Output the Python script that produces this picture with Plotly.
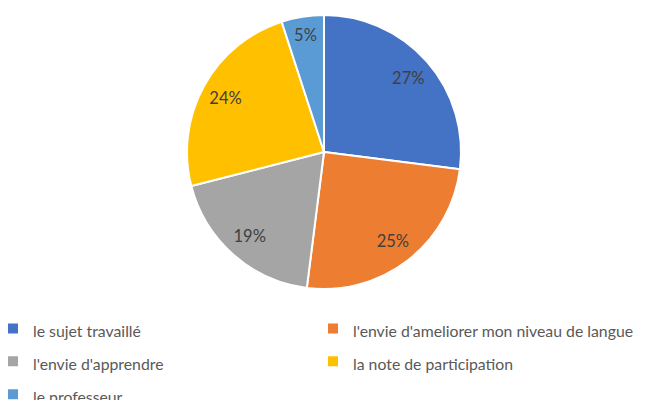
import plotly.graph_objects as go

labels = ["le sujet travaillé", "l'envie d'ameliorer mon niveau de langue",
          "l'envie d'apprendre", "la note de participation", "le professeur"]
values = [27, 25, 19, 24, 5]
colors = ["#4472C4", "#ED7D31", "#A5A5A5", "#FFC000", "#5B9BD5"]

W, H = 646, 400
OFF = 8                 # default page body margin shifts the figure by 8px
cx, cy, r = 324 - OFF, 152 - OFF, 137
LEG_TOP = 307 - OFF     # legend top in px (container coords)
P = LEG_TOP             # plot area height (legend reserves the space below)

dom = dict(x=[(cx - r) / W, (cx + r) / W], y=[1 - (cy + r) / P, 1 - (cy - r) / P])

leg_labels = ['<span style="font-size:15.8px">%s</span>' % s for s in labels]

fig = go.Figure()
fig.add_trace(go.Pie(
    labels=leg_labels,
    values=values,
    sort=False,
    direction="clockwise",
    rotation=0,
    marker=dict(colors=colors, line=dict(color="white", width=2)),
    textinfo="none",
    domain=dom,
    hovertext=labels,
    hoverinfo="text+percent",
))
fig.add_trace(go.Pie(
    labels=leg_labels,
    values=values,
    sort=False,
    direction="clockwise",
    rotation=0,
    hole=0.64,
    marker=dict(colors=["rgba(0,0,0,0)"] * len(values), line=dict(width=0)),
    textinfo="percent",
    textposition="inside",
    insidetextorientation="horizontal",
    textfont=dict(family="Lato", size=16.5, color="#404040"),
    domain=dom,
    showlegend=False,
    hoverinfo="skip",
))

fig.update_layout(
    width=W, height=H,
    margin=dict(l=0, r=0, t=0, b=0),
    paper_bgcolor="white",
    showlegend=True,
    legend=dict(
        orientation="h",
        xref="container", x=0, xanchor="left",
        yref="container", y=1 - LEG_TOP / H, yanchor="top",
        indentation=-15,
        entrywidth=290, entrywidthmode="pixels",
        font=dict(family="Lato", size=23, color="#595959"),
        traceorder="normal",
    ),
)

fig.write_html("out.html")
